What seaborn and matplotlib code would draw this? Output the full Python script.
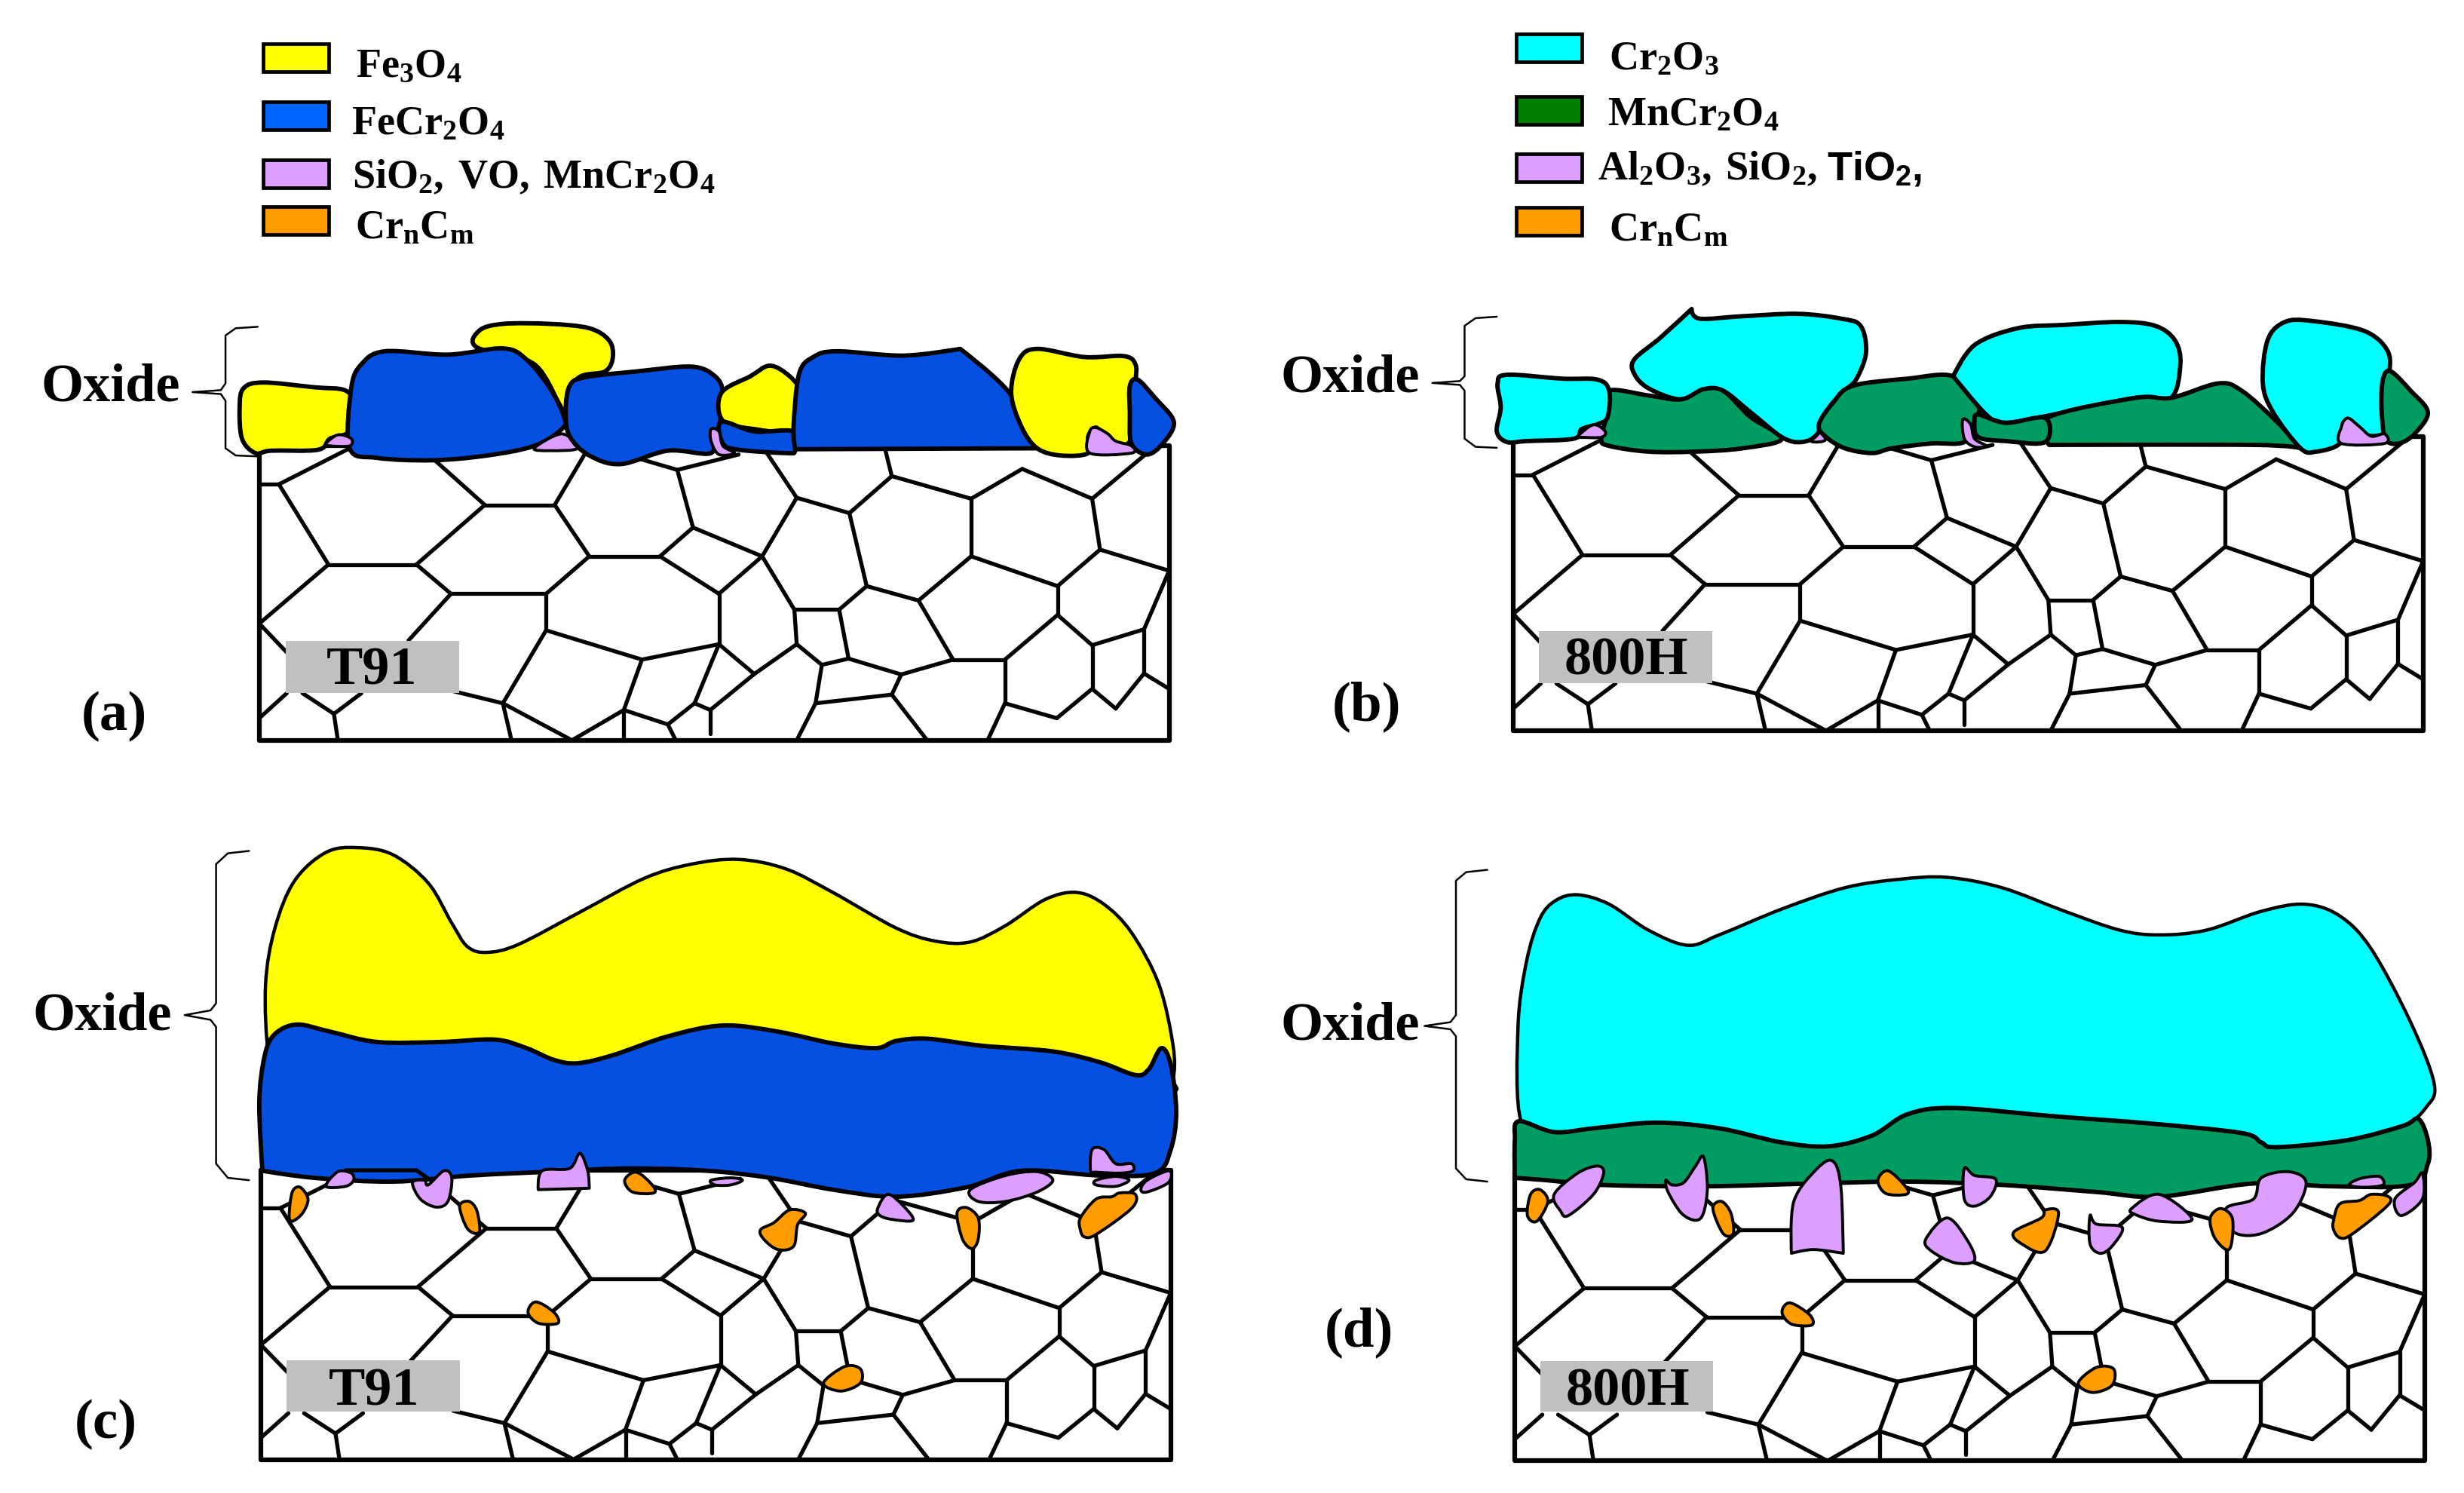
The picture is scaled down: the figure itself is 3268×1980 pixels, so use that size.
#!/usr/bin/env python3

import numpy as np
import pandas as pd
import seaborn as sns
import matplotlib.pyplot as plt
from matplotlib.path import Path
from matplotlib.patches import PathPatch, Rectangle

YELLOW = '#ffff00'
BLUE = '#0550e0'
BLUE_KEY = '#0066ff'
CYAN = '#00ffff'
GREEN = '#009c62'
GREEN_KEY = '#008000'
PURPLE = '#dd9fff'
ORANGE = '#ff9c00'
GRAY = '#c0c0c0'

panels = {
    'a': (0, 0, 1.0421, 0.6369),
    'b': (1634, 0, 1.0421, 0.6369),
    'c': (0, 1000, 1.0421, 0.6256),
    'd': (1634, 1000, 1.0421, 0.6256),
}
frame_origin = {'a': (330, 930), 'b': (358, 910), 'c': (332, 884), 'd': (360, 887)}
frame_size = (1158, 613)
label_box = {'a': (364, 1336), 'b': (391, 1316), 'c': (365, 1287), 'd': (392, 1288)}
label_box_size = (220, 108)

# grain boundaries, measured in panel (a)
grain_edges = [
    [(330, 1010), (355, 1010)], [(355, 1010), (445, 935)], [(355, 1010), (418, 1177)],
    [(418, 1177), (530, 1177)], [(418, 1177), (330, 1300)], [(530, 1177), (617, 1053)],
    [(617, 1053), (706, 1053)], [(617, 1053), (550, 955)], [(706, 1053), (745, 945)],
    [(706, 1053), (750, 1160)], [(530, 1177), (574, 1238)], [(574, 1238), (695, 1238)],
    [(695, 1238), (750, 1160)], [(750, 1160), (840, 1160)], [(840, 1160), (882, 1100)],
    [(882, 1100), (862, 980)], [(862, 980), (810, 955)], [(862, 980), (940, 948)],
    [(882, 1100), (970, 1160)], [(840, 1160), (915, 1238)], [(915, 1238), (970, 1160)],
    [(970, 1160), (1014, 1038)], [(1014, 1038), (976, 945)], [(1014, 1038), (1081, 1070)],
    [(1081, 1070), (1135, 993)], [(1135, 993), (1127, 940)], [(1135, 993), (1236, 1040)],
    [(1236, 1040), (1301, 978)], [(1301, 978), (1390, 1040)], [(1390, 1040), (1460, 945)],
    [(1390, 1040), (1400, 1146)], [(1236, 1040), (1236, 1160)], [(1236, 1160), (1346, 1222)],
    [(1346, 1222), (1400, 1146)], [(1400, 1146), (1488, 1190)], [(1488, 1190), (1456, 1312)],
    [(1456, 1312), (1390, 1345)], [(1390, 1345), (1346, 1282)], [(1346, 1282), (1346, 1222)],
    [(1346, 1282), (1279, 1375)], [(1279, 1375), (1213, 1375)], [(1213, 1375), (1169, 1252)],
    [(1169, 1252), (1236, 1160)], [(1169, 1252), (1103, 1222)], [(1103, 1222), (1081, 1070)],
    [(1103, 1222), (1068, 1271)], [(1068, 1271), (1011, 1271)], [(1011, 1271), (970, 1160)],
    [(1011, 1271), (1014, 1343)], [(1068, 1271), (1080, 1373)], [(1080, 1373), (1046, 1386)],
    [(1046, 1386), (1014, 1343)], [(1080, 1373), (1147, 1406)], [(1147, 1406), (1213, 1375)],
    [(1147, 1406), (1135, 1448)], [(1135, 1448), (1038, 1466)], [(1046, 1386), (1038, 1466)],
    [(1038, 1466), (1014, 1543)], [(1135, 1448), (1180, 1543)], [(1279, 1375), (1279, 1466)],
    [(1279, 1466), (1257, 1543)], [(1279, 1466), (1345, 1497)], [(1345, 1497), (1390, 1436)],
    [(1390, 1436), (1390, 1345)], [(1390, 1436), (1420, 1477)], [(1420, 1477), (1456, 1404)],
    [(1456, 1404), (1456, 1312)], [(1456, 1404), (1488, 1436)], [(915, 1238), (915, 1343)],
    [(915, 1343), (817, 1375)], [(817, 1375), (695, 1314)], [(695, 1314), (695, 1238)],
    [(695, 1314), (640, 1466)], [(640, 1466), (575, 1440)], [(817, 1375), (794, 1480)],
    [(794, 1480), (794, 1543)], [(794, 1480), (728, 1543)], [(728, 1543), (640, 1466)],
    [(640, 1466), (651, 1543)], [(794, 1480), (850, 1510)], [(850, 1510), (860, 1543)],
    [(850, 1510), (884, 1466)], [(884, 1466), (915, 1343)], [(884, 1466), (904, 1480)],
    [(904, 1480), (904, 1530)], [(904, 1480), (960, 1405)], [(960, 1405), (915, 1343)],
    [(960, 1405), (1014, 1343)], [(574, 1238), (520, 1335)], [(330, 1300), (365, 1360)],
    [(330, 1497), (365, 1445)], [(425, 1488), (385, 1445)], [(425, 1488), (430, 1543)],
    [(425, 1488), (460, 1445)],
]

# oxide grains, back to front; a repeated point keeps a corner sharp
shapes_a = [
    (YELLOW, [(607, 725), (610, 690), (640, 676), (700, 676), (750, 685), (775, 710), (780, 745), (770, 775), (735, 790), (720, 860), (680, 760)]),
    (YELLOW, [(305, 850), (310, 810), (335, 798), (400, 808), (440, 815), (453, 850), (445, 900), (420, 915), (405, 938), (345, 940), (325, 945), (308, 915)]),
    (BLUE, [(445, 935), (447, 810), (460, 760), (490, 733), (570, 740), (640, 727), (670, 750), (700, 810), (718, 870), (715, 895), (680, 930), (620, 950), (550, 960), (480, 955)]),
    (PURPLE, [(680, 935), (715, 905), (735, 935), (700, 940)]),
    (BLUE, [(720, 860), (725, 805), (745, 787), (810, 775), (880, 765), (910, 785), (920, 820), (915, 890), (905, 900), (905, 945), (850, 940), (790, 968), (750, 950), (725, 910)]),
    (YELLOW, [(918, 820), (955, 785), (980, 763), (1005, 785), (1020, 820), (1015, 860), (1008, 900), (960, 895), (920, 878)]),
    (BLUE, [(918, 880), (960, 900), (1010, 900), (1012, 940), (1000, 945), (940, 938), (920, 925)]),
    (BLUE, [(1010, 890), (1017, 780), (1035, 745), (1065, 733), (1150, 742), (1222, 728), (1222, 728), (1285, 820), (1320, 935), (1320, 935), (1012, 937), (1012, 937)]),
    (YELLOW, [(1287, 820), (1297, 750), (1320, 728), (1380, 745), (1430, 743), (1445, 760), (1445, 800), (1438, 920), (1410, 915), (1395, 892), (1385, 910), (1385, 945), (1350, 950), (1320, 935), (1300, 890)]),
    (BLUE, [(1438, 805), (1448, 792), (1470, 830), (1494, 880), (1480, 925), (1460, 948), (1440, 925), (1438, 860)]),
    (PURPLE, [(415, 925), (430, 907), (447, 915), (445, 930), (420, 930)]),
    (PURPLE, [(905, 895), (915, 900), (920, 930), (935, 945), (915, 948), (905, 920)]),
    (PURPLE, [(1387, 945), (1387, 900), (1395, 892), (1410, 905), (1420, 920), (1440, 930), (1440, 945)]),
]
shapes_b = [
    (GREEN, [(480, 815), (530, 825), (570, 833), (600, 812), (625, 815), (660, 870), (700, 915), (650, 935), (590, 942), (530, 942), (480, 930), (470, 915), (478, 860)]),
    (PURPLE, [(737, 920), (745, 895), (755, 918)]),
    (CYAN, [(512, 750), (545, 705), (585, 645), (585, 645), (595, 665), (650, 660), (720, 655), (775, 665), (800, 680), (807, 735), (795, 790), (780, 815), (760, 850), (745, 905), (725, 922), (700, 912), (660, 860), (625, 815), (600, 812), (570, 833), (530, 810), (512, 780)]),
    (CYAN, [(338, 800), (350, 782), (420, 790), (465, 792), (480, 815), (478, 870), (465, 885), (445, 895), (435, 915), (375, 920), (350, 922), (337, 900), (342, 850)]),
    (GREEN, [(747, 885), (765, 840), (790, 805), (860, 790), (918, 785), (950, 840), (945, 880), (932, 922), (890, 925), (840, 935), (815, 945), (780, 935), (755, 910)]),
    (CYAN, [(918, 785), (918, 785), (945, 720), (1000, 685), (1060, 678), (1130, 672), (1175, 680), (1200, 710), (1207, 760), (1195, 830), (1150, 830), (1060, 860), (985, 882), (960, 865)]),
    (GREEN, [(1037, 872), (1150, 830), (1195, 830), (1255, 800), (1285, 815), (1330, 880), (1360, 935), (1360, 935), (1300, 928), (1040, 928), (1040, 928)]),
    (GREEN, [(945, 880), (950, 865), (985, 882), (1035, 872), (1035, 922), (985, 920), (950, 912)]),
    (CYAN, [(1312, 800), (1318, 710), (1340, 672), (1375, 670), (1440, 690), (1470, 730), (1473, 780), (1465, 860), (1465, 905), (1430, 905), (1415, 880), (1410, 925), (1380, 942), (1360, 935), (1325, 860)]),
    (GREEN, [(1465, 790), (1475, 775), (1500, 815), (1522, 860), (1505, 905), (1485, 925), (1468, 915), (1463, 850)]),
    (PURPLE, [(440, 910), (460, 886), (475, 900), (470, 912), (445, 912)]),
    (PURPLE, [(930, 875), (940, 885), (945, 915), (960, 930), (945, 932), (932, 915)]),
    (PURPLE, [(1412, 925), (1412, 890), (1420, 872), (1435, 890), (1450, 910), (1467, 905), (1467, 925)]),
]
shapes_c = [
    (YELLOW, [(342, 640), (338, 490), (350, 370), (375, 270), (415, 210), (455, 200), (500, 215), (545, 275), (575, 360), (595, 410), (620, 422), (660, 405), (740, 335), (820, 265), (880, 235), (940, 225), (1000, 245), (1060, 295), (1140, 370), (1190, 398), (1235, 400), (1280, 365), (1330, 310), (1370, 295), (1405, 320), (1440, 380), (1475, 490), (1493, 620), (1493, 690), (1480, 720), (1300, 720), (500, 720), (360, 700)]),
    (BLUE, [(334, 885), (334, 885), (330, 740), (337, 640), (350, 595), (378, 575), (420, 590), (480, 612), (560, 612), (630, 607), (670, 625), (705, 650), (735, 657), (780, 640), (850, 600), (920, 577), (990, 590), (1060, 615), (1115, 625), (1140, 610), (1180, 605), (1250, 620), (1340, 632), (1400, 655), (1445, 682), (1462, 670), (1478, 625), (1490, 660), (1497, 760), (1490, 840), (1470, 890), (1400, 895), (1300, 885), (1230, 920), (1140, 940), (1060, 925), (980, 900), (900, 885), (800, 880), (700, 887), (600, 895), (500, 908), (400, 900)]),
    (PURPLE, [(415, 918), (430, 887), (447, 890), (450, 905), (440, 918)]),
    (PURPLE, [(525, 910), (540, 905), (545, 915), (565, 885), (575, 900), (570, 950), (555, 962), (535, 945)]),
    (PURPLE, [(685, 925), (685, 925), (690, 885), (725, 880), (738, 848), (748, 885), (750, 922), (750, 922)]),
    (PURPLE, [(905, 905), (930, 900), (945, 905), (930, 915), (910, 915)]),
    (PURPLE, [(1117, 965), (1130, 935), (1150, 960), (1162, 990), (1135, 988), (1120, 980)]),
    (PURPLE, [(1235, 925), (1280, 895), (1320, 887), (1340, 905), (1320, 930), (1280, 950), (1245, 950)]),
    (PURPLE, [(1388, 885), (1390, 840), (1405, 840), (1420, 870), (1440, 870), (1442, 885), (1425, 890), (1395, 888)]),
    (PURPLE, [(1395, 905), (1420, 897), (1437, 905), (1420, 918), (1395, 915)]),
    (PURPLE, [(1452, 925), (1460, 905), (1488, 885), (1487, 910), (1460, 930)]),
    (ORANGE, [(368, 980), (372, 930), (382, 920), (392, 945), (385, 975), (372, 992)]),
    (ORANGE, [(585, 960), (597, 950), (607, 970), (610, 1015), (595, 1008)]),
    (ORANGE, [(795, 905), (810, 888), (830, 915), (832, 932), (805, 930)]),
    (ORANGE, [(968, 1010), (985, 995), (1005, 968), (1025, 975), (1015, 1000), (1010, 1045), (990, 1052), (972, 1030)]),
    (ORANGE, [(1218, 975), (1230, 963), (1245, 985), (1245, 1030), (1237, 1050), (1225, 1030)]),
    (ORANGE, [(1375, 985), (1395, 945), (1415, 940), (1425, 932), (1445, 935), (1440, 965), (1395, 1020), (1380, 1025), (1375, 1010)]),
    (ORANGE, [(672, 1185), (682, 1163), (705, 1185), (710, 1208), (685, 1208)]),
    (ORANGE, [(1048, 1335), (1075, 1300), (1095, 1305), (1095, 1335), (1070, 1352)]),
]
shapes_d = [
    (CYAN, [(368, 780), (364, 580), (375, 440), (392, 350), (412, 312), (440, 300), (480, 320), (530, 375), (580, 407), (620, 385), (700, 330), (780, 285), (850, 267), (910, 263), (980, 285), (1060, 335), (1130, 375), (1180, 385), (1240, 375), (1310, 335), (1365, 320), (1410, 345), (1450, 415), (1500, 570), (1530, 700), (1520, 750), (1490, 790), (1420, 820), (1330, 835), (1310, 825), (1285, 805), (1170, 785), (1050, 770), (920, 752), (860, 765), (815, 810), (760, 833), (700, 825), (620, 795), (540, 783), (460, 795), (410, 803)]),
    (GREEN, [(360, 900), (360, 900), (360, 820), (365, 780), (410, 803), (460, 795), (540, 783), (620, 795), (700, 825), (760, 833), (815, 810), (860, 765), (920, 752), (1050, 770), (1170, 785), (1285, 805), (1310, 825), (1330, 835), (1420, 820), (1490, 790), (1510, 775), (1522, 820), (1522, 870), (1500, 915), (1400, 918), (1300, 912), (1180, 940), (1100, 930), (980, 915), (860, 908), (740, 912), (600, 918), (470, 915), (400, 905)]),
    (PURPLE, [(410, 935), (440, 890), (465, 875), (473, 890), (460, 935), (428, 980), (418, 970)]),
    (PURPLE, [(552, 905), (560, 915), (575, 910), (590, 875), (600, 855), (605, 920), (600, 975), (590, 990), (572, 975), (555, 930)]),
    (PURPLE, [(712, 1060), (712, 1060), (715, 950), (745, 880), (765, 865), (775, 920), (778, 1060), (778, 1060), (740, 1052)]),
    (PURPLE, [(932, 880), (945, 895), (972, 903), (965, 940), (945, 960), (932, 945)]),
    (PURPLE, [(883, 1030), (910, 985), (935, 1030), (945, 1075), (920, 1080), (890, 1055)]),
    (PURPLE, [(1092, 980), (1100, 998), (1133, 1005), (1120, 1045), (1105, 1060), (1092, 1040)]),
    (PURPLE, [(1145, 965), (1180, 935), (1222, 988), (1180, 992), (1150, 978)]),
    (PURPLE, [(1265, 965), (1300, 945), (1310, 900), (1345, 887), (1367, 910), (1350, 975), (1310, 1018), (1275, 1015)]),
    (PURPLE, [(1422, 915), (1435, 902), (1460, 897), (1465, 915), (1440, 920)]),
    (PURPLE, [(1480, 945), (1505, 910), (1515, 890), (1515, 945), (1488, 980)]),
    (ORANGE, [(376, 980), (380, 935), (392, 925), (402, 950), (388, 992)]),
    (ORANGE, [(612, 965), (623, 950), (635, 975), (638, 1018), (625, 1018)]),
    (ORANGE, [(822, 905), (835, 885), (858, 920), (858, 935), (832, 933)]),
    (ORANGE, [(995, 1015), (1030, 985), (1035, 968), (1052, 975), (1035, 1055), (1005, 1040)]),
    (ORANGE, [(1245, 985), (1258, 965), (1273, 985), (1272, 1040), (1265, 1052), (1250, 1025)]),
    (ORANGE, [(1402, 990), (1410, 955), (1435, 948), (1450, 935), (1472, 940), (1470, 960), (1425, 1020), (1410, 1027), (1402, 1010)]),
    (ORANGE, [(700, 1185), (710, 1165), (735, 1190), (738, 1212), (712, 1210)]),
    (ORANGE, [(1077, 1335), (1100, 1302), (1122, 1305), (1120, 1340), (1095, 1355)]),
]
shapes = {'a': shapes_a, 'b': shapes_b, 'c': shapes_c, 'd': shapes_d}

braces = {
    'a': [(328, 682), (300, 685), (287, 700), (287, 800), (281, 814), (245, 818), (281, 822), (287, 836), (287, 935), (300, 950), (330, 952)],
    'b': [(337, 661), (310, 664), (296, 680), (296, 785), (290, 795), (255, 799), (290, 803), (296, 815), (296, 915), (310, 932), (337, 934)],
    'c': [(317, 207), (290, 212), (275, 235), (275, 530), (268, 545), (235, 555), (268, 565), (275, 580), (275, 870), (290, 900), (317, 905)],
    'd': [(325, 247), (298, 252), (285, 270), (285, 555), (278, 570), (245, 578), (278, 585), (285, 600), (285, 880), (298, 903), (325, 908)],
}
stray_line_c = [(440, 884), (530, 884), (548, 905)]

legend_a = [(93, YELLOW, 453, 160, 'Fe_3O_4'), (213, BLUE_KEY, 447, 280, 'FeCr_2O_4'),
            (334, PURPLE, 448, 392, 'SiO_2{,}\\ VO{,}\\ MnCr_2O_4'), (432, ORANGE, 452, 497, 'Cr_nC_m')]
legend_b = [(73, CYAN, 480, 143, 'Cr_2O_3'), (202, GREEN_KEY, 478, 262, 'MnCr_2O_4'),
            (322, PURPLE, 465, 375, 'Al_2O_3{,}\\ SiO_2{,}'), (433, ORANGE, 480, 502, 'Cr_nC_m')]
legend_x = {'a': 335, 'b': 362}
legend_size = (83, 58)

oxide_pos = {'a': (52, 835), 'b': (62, 815), 'c': (42, 585), 'd': (62, 605)}
steel_pos = {'a': (415, 1425, 'T91'), 'b': (423, 1405, '800H'), 'c': (418, 1380, 'T91'), 'd': (425, 1380, '800H')}
tag_pos = {'a': (103, 1520), 'b': (127, 1500), 'c': (95, 1450), 'd': (118, 1255)}


def to_ref(points, key):
    ox, oy, sx, sy = panels[key]
    pts = np.asarray(points, dtype=float)
    return np.column_stack([ox + pts[:, 0] * sx, oy + pts[:, 1] * sy])


def smooth_closed(pts):
    '''Closed Catmull-Rom outline as a bezier path, no tangent at repeated points'''
    n = len(pts)
    tangents = np.zeros_like(pts)
    for i in range(n):
        prev_pt, pt, next_pt = pts[i - 1], pts[i], pts[(i + 1) % n]
        if not (np.array_equal(pt, prev_pt) or np.array_equal(pt, next_pt)):
            tangents[i] = (next_pt - prev_pt) / 6
    verts = [pts[0]]
    codes = [Path.MOVETO]
    for i in range(n):
        j = (i + 1) % n
        verts += [pts[i] + tangents[i], pts[j] - tangents[j], pts[j]]
        codes += [Path.CURVE4] * 3
    verts.append(pts[0])
    codes.append(Path.CLOSEPOLY)
    return Path(np.array(verts), codes)


def draw_lines(ax, lines, lw):
    rows = []
    for i, line in enumerate(lines):
        for x, y in line:
            rows.append((i, x, y))
    df = pd.DataFrame(rows, columns=['edge', 'x', 'y'])
    sns.lineplot(data=df, x='x', y='y', units='edge', estimator=None, sort=False,
                 color='black', linewidth=lw, legend=False, ax=ax)


def put_text(ax, key, x, y, s, size, **kwargs):
    px, py = to_ref([(x, y)], key)[0]
    ax.text(px, py, s, fontsize=size, ha='left', va='baseline', color='black', **kwargs)


sns.set_theme(style='white')
plt.rcParams['font.family'] = ['Liberation Serif', 'DejaVu Serif']
plt.rcParams['font.weight'] = 'bold'
plt.rcParams['mathtext.fontset'] = 'custom'
plt.rcParams['mathtext.rm'] = 'Liberation Serif:bold'
plt.rcParams['mathtext.default'] = 'rm'

fig = plt.figure(figsize=(32.68, 19.81), dpi=100)
ax = fig.add_axes([0, 0, 1, 1])

for key in panels:
    fx, fy = frame_origin[key]
    w, h = frame_size
    dx, dy = fx - 330, fy - 930
    grains = [to_ref([(x + dx, y + dy) for x, y in e], key) for e in grain_edges]
    draw_lines(ax, grains, 3.8)
    frame = to_ref([(fx, fy), (fx, fy + h), (fx + w, fy + h), (fx + w, fy), (fx, fy)], key)
    draw_lines(ax, [frame], 4.5)

    bx, by = label_box[key]
    (x0, y0), (x1, y1) = to_ref([(bx, by), (bx + label_box_size[0], by + label_box_size[1])], key)
    ax.add_patch(Rectangle((x0, y0), x1 - x0, y1 - y0, fc=GRAY, ec='none', zorder=3))

    for color, outline in shapes[key]:
        lw = 2.8 if color in (PURPLE, ORANGE) else 4.2
        if key in 'cd' and color in (YELLOW, CYAN):
            lw = 3.2
        ax.add_patch(PathPatch(smooth_closed(to_ref(outline, key)), fc=color, ec='black',
                               lw=lw, joinstyle='round', zorder=4))

    draw_lines(ax, [to_ref(braces[key], key)], 1.8)

    ox, oy = oxide_pos[key]
    put_text(ax, key, ox, oy, 'Oxide', 52)
    sx, sy, name = steel_pos[key]
    put_text(ax, key, sx, sy, name, 52, zorder=5)
    tx, ty = tag_pos[key]
    put_text(ax, key, tx, ty, '(%s)' % key, 54)

draw_lines(ax, [to_ref(stray_line_c, 'c')], 3.8)
ax.lines[-1].set_zorder(6)

for key, entries in (('a', legend_a), ('b', legend_b)):
    for top, color, tx, ty, label in entries:
        (x0, y0), (x1, y1) = to_ref([(legend_x[key], top),
                                     (legend_x[key] + legend_size[0], top + legend_size[1])], key)
        ax.add_patch(Rectangle((x0, y0), x1 - x0, y1 - y0, fc=color, ec='black', lw=3.4, zorder=4))
        put_text(ax, key, tx, ty, '$%s$' % label, 39)

# the last entry of (b) is set in a sans face in the reference
put_text(ax, 'b', 757, 375, r'TiO$_{\mathregular{2}}$,', 39, family='Liberation Sans')

ax.set_xlim(0, 3268)
ax.set_ylim(1981, 0)
ax.axis('off')

fig.savefig('out.png', dpi=100, facecolor='white')
